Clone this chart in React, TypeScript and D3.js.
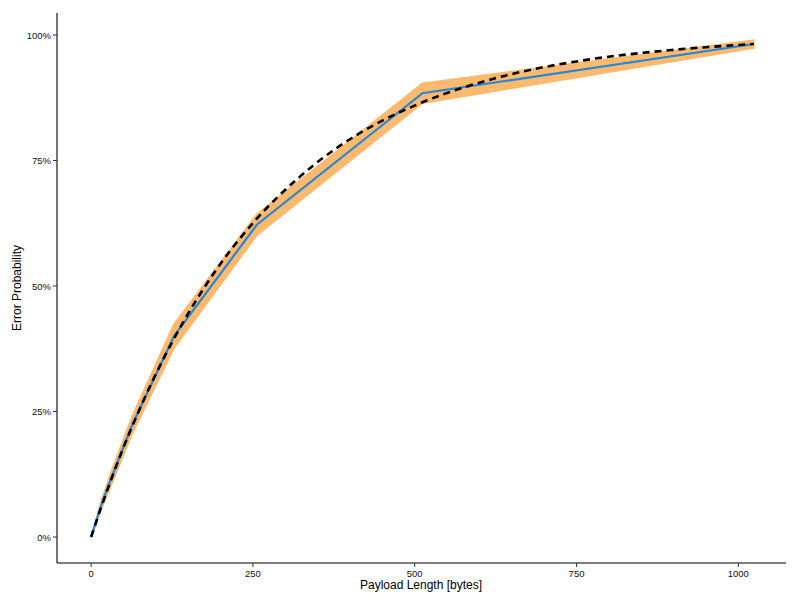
import React from "react";
import { scaleLinear, line, area, curveMonotoneX, format } from "d3";

const width = 800;
const height = 600;

// measured error rate (blue line) and its band
const payloadBytes = [0, 16, 32, 64, 128, 256, 512, 1024];
const errorRate = [0, 0.065, 0.12, 0.225, 0.4, 0.622, 0.884, 0.982];
const errorLow = [0, 0.056, 0.106, 0.207, 0.376, 0.601, 0.864, 0.974];
const errorHigh = [0, 0.074, 0.134, 0.243, 0.424, 0.643, 0.904, 0.99];

// expected curve (black dashed)
const modelBytes = [0, 16, 32, 48, 64, 96, 128, 192, 256, 320, 384, 448, 512, 640, 768, 896, 1024];
const modelRate = [0, 0.061, 0.118, 0.172, 0.222, 0.314, 0.395, 0.53, 0.634, 0.715, 0.779, 0.828, 0.866, 0.919, 0.951, 0.97, 0.982];

const xTicks = [0, 250, 500, 750, 1000];
const yTicks = [0, 0.25, 0.5, 0.75, 1];

const panel = { left: 57, right: 786, top: 13, bottom: 563 };

export default function App() {
  const x = scaleLinear().domain([-51.2, 1075.2]).range([panel.left + 1, panel.right + 1]);
  const y = scaleLinear().domain([0, 1]).range([537, 35]);

  const measured = payloadBytes.map((b, i) => ({ b, v: errorRate[i], lo: errorLow[i], hi: errorHigh[i] }));
  const model = modelBytes.map((b, i) => ({ b, v: modelRate[i] }));

  const band = area<any>()
    .x((d) => x(d.b))
    .y0((d) => y(d.lo))
    .y1((d) => y(d.hi));
  const measuredLine = line<any>()
    .x((d) => x(d.b))
    .y((d) => y(d.v));
  const modelLine = line<any>()
    .x((d) => x(d.b))
    .y((d) => y(d.v))
    .curve(curveMonotoneX);

  const pct = format(".0%");
  const font = "'Liberation Sans', Arial, sans-serif";

  return (
    <svg width={width} height={height} style={{ position: "absolute", left: 0, top: 0, background: "#fff" }}>
      <path d={band(measured) || ""} fill="#FDB96E" stroke="#FDB96E" strokeWidth={1.5} />
      <path d={measuredLine(measured) || ""} fill="none" stroke="#2486DA" strokeWidth={2.2} />
      <path
        d={modelLine(model) || ""}
        fill="none"
        stroke="#000"
        strokeWidth={2.6}
        strokeDasharray="7,5"
      />

      {/* axes */}
      <line x1={panel.left} x2={panel.left} y1={panel.top} y2={panel.bottom} stroke="#000" strokeWidth={1.1} />
      <line x1={panel.left} x2={panel.right} y1={panel.bottom} y2={panel.bottom} stroke="#000" strokeWidth={1.1} />

      {xTicks.map((t) => (
        <g key={t}>
          <line x1={x(t)} x2={x(t)} y1={panel.bottom} y2={panel.bottom + 4} stroke="#333" />
          <text x={x(t)} y={panel.bottom + 14} textAnchor="middle" fontSize={9.5} fontFamily={font} fill="#111">
            {t}
          </text>
        </g>
      ))}
      {yTicks.map((t) => (
        <g key={t}>
          <line x1={panel.left - 4} x2={panel.left} y1={y(t)} y2={y(t)} stroke="#333" />
          <text x={panel.left - 6} y={y(t) + 3.5} textAnchor="end" fontSize={9.5} fontFamily={font} fill="#111">
            {pct(t)}
          </text>
        </g>
      ))}

      <text x={421} y={589} textAnchor="middle" fontSize={12} fontFamily={font} fill="#000">
        Payload Length [bytes]
      </text>
      <text
        transform={`translate(21,288) rotate(-90)`}
        textAnchor="middle"
        fontSize={12}
        fontFamily={font}
        fill="#000"
      >
        Error Probability
      </text>
    </svg>
  );
}
